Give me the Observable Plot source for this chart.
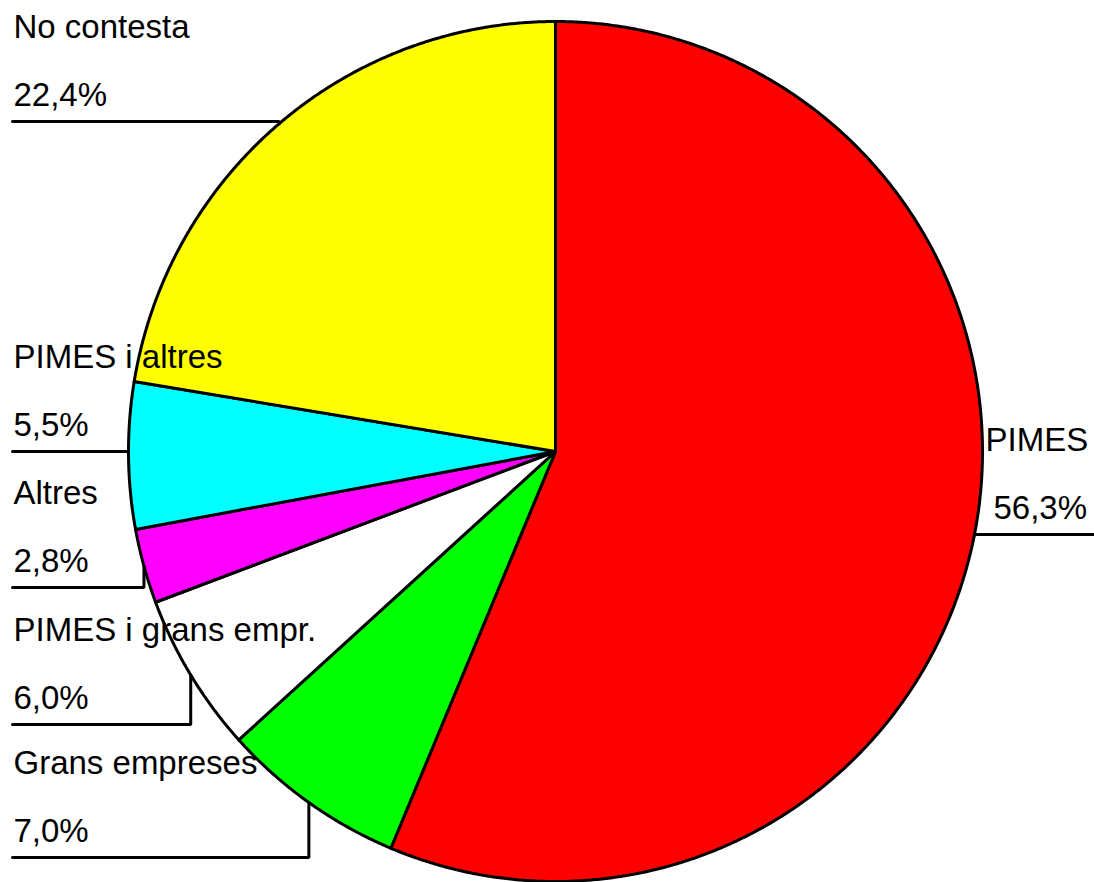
<!DOCTYPE html>
<html>
<head>
<meta charset="utf-8">
<script src="https://cdn.jsdelivr.net/npm/d3@7"></script>
<script src="https://cdn.jsdelivr.net/npm/@observablehq/plot@0.6"></script>
<style>
  html, body { margin: 0; padding: 0; background: #fff; }
  #chart svg { display: block; }
</style>
</head>
<body>
<div id="chart"></div>
<script>
// ---- data ----
const categories = ["PIMES", "Grans empreses", "PIMES i grans empr.", "Altres", "PIMES i altres", "No contesta"];
const values = [56.3, 7.0, 6.0, 2.8, 5.5, 22.4];
const pctLabels = ["56,3%", "7,0%", "6,0%", "2,8%", "5,5%", "22,4%"];
const colors = ["#ff0000", "#00ff00", "#ffffff", "#ff00ff", "#00ffff", "#ffff00"];

// ---- layout (pixels) ----
const W = 1094, H = 882;
const cx = 555, cy = 451, RX = 427, RY = 430;
const labelLineY = [534, 857, 724, 587, 451, 121];
const labelSide = ["right", "left", "left", "left", "left", "left"];
const nameX = [985, 13, 13, 13, 13, 13];
const pctX = [993, 13, 13, 13, 13, 13];
const fontSize = 33;

const arcs = d3.pie().sort(null).value(d => d)(values);

const pt = a => [cx + RX * Math.sin(a), cy - RY * Math.cos(a)];

const slicePts = [];
arcs.forEach((a, i) => {
  slicePts.push({k: categories[i], x: cx, y: cy, c: colors[i]});
  const n = Math.max(4, Math.ceil((a.endAngle - a.startAngle) / 0.005));
  for (let j = 0; j <= n; j++) {
    const t = a.startAngle + (a.endAngle - a.startAngle) * j / n;
    const [x, y] = pt(t);
    slicePts.push({k: categories[i], x, y, c: colors[i]});
  }
});

const leaderPts = [];
arcs.forEach((a, i) => {
  const mid = (a.startAngle + a.endAngle) / 2;
  const [ex, ey] = pt(mid);
  const ly = labelLineY[i];
  const endX = labelSide[i] === "right" ? W : 12;
  leaderPts.push({k: categories[i], x: ex, y: ey});
  leaderPts.push({k: categories[i], x: ex, y: ly});
  leaderPts.push({k: categories[i], x: endX, y: ly});
});

const labels = categories.map((c, i) => ({
  name: c, pct: pctLabels[i],
  nx: nameX[i], px: pctX[i],
  ny: labelLineY[i] - 84, py: labelLineY[i] - 16
}));

const chart = Plot.plot({
  width: W, height: H,
  margin: 0,
  x: {domain: [0, W], range: [0, W], axis: null},
  y: {domain: [0, H], range: [0, H], axis: null},
  style: {fontFamily: "'Liberation Sans', Arial, sans-serif", background: "#fff"},
  marks: [
    Plot.line(slicePts, {x: "x", y: "y", z: "k", fill: "c", stroke: "black", strokeWidth: 3, strokeLinejoin: "round", curve: "linear-closed"}),
    Plot.line(leaderPts, {x: "x", y: "y", z: "k", stroke: "black", strokeWidth: 3, strokeLinejoin: "miter"}),
    Plot.text(labels, {x: "nx", y: "ny", text: "name", textAnchor: "start", lineAnchor: "bottom", fontSize, fill: "black"}),
    Plot.text(labels, {x: "px", y: "py", text: "pct", textAnchor: "start", lineAnchor: "bottom", fontSize, fill: "black"})
  ]
});
document.getElementById("chart").appendChild(chart);
</script>
</body>
</html>
